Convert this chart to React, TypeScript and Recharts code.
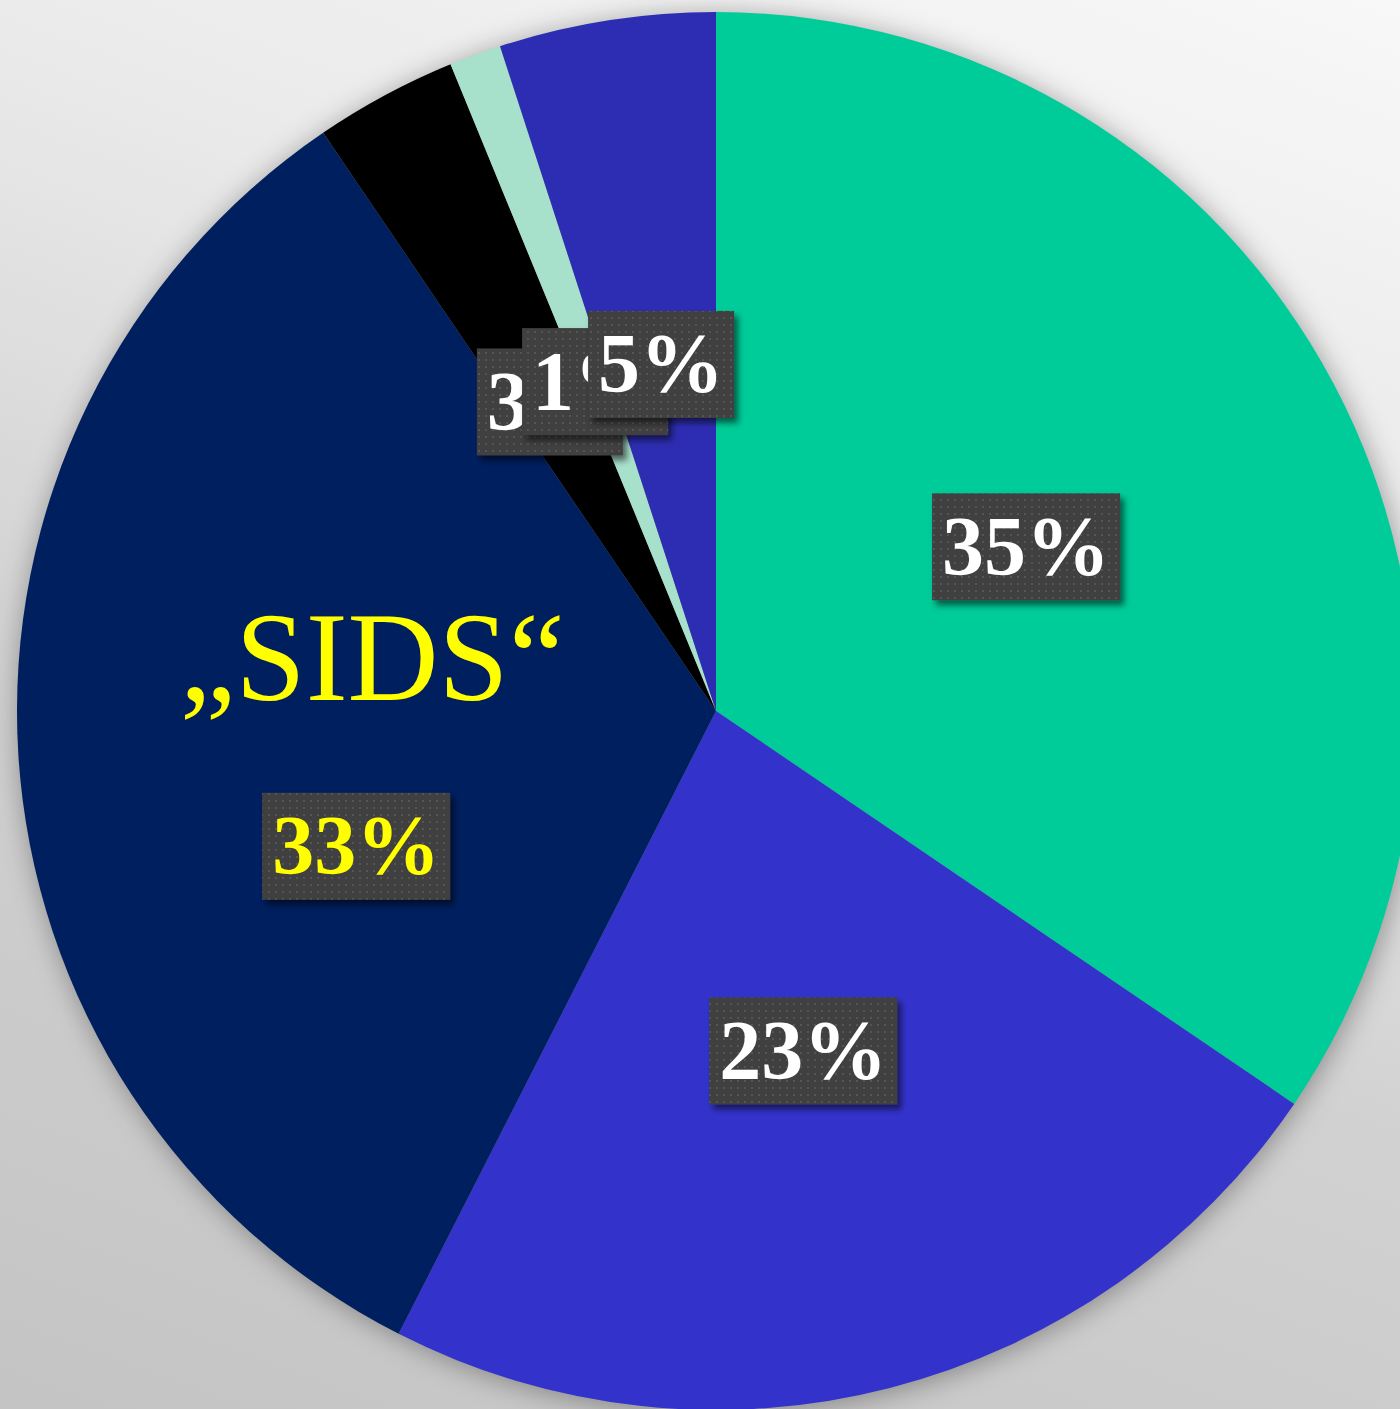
import { PieChart, Pie, Cell } from "recharts"

const sliceNames = ["Kategorie A", "Kategorie B", "SIDS", "Kategorie D", "Kategorie E", "Kategorie F"]
const sliceShares = [34.5, 23, 33, 3.3, 1.2, 5]
const sliceColors = ["#00CC99", "#3333CC", "#001F5F", "#000000", "#A7E0CB", "#2D2DB3"]
const highlightLabel = "„SIDS“"

const data = sliceNames.map((name, i) => ({ name, value: sliceShares[i] }))

const RADIAN = Math.PI / 180
const FONT = '"Liberation Serif", "Times New Roman", serif'

function textWidth(s: string, size: number) {
  let w = 0
  for (const ch of s) w += ch === "%" ? 1.0 : 0.5
  return w * size
}

function renderLabel(props: any) {
  const { cx, cy, midAngle, outerRadius, percent, index } = props
  const isSids = index === 2
  // the SIDS label sits lower in the slice, below its caption
  const angle = isSids ? midAngle + 17 : midAngle
  const r = outerRadius * (isSids ? 0.55 : 0.502)
  const x = cx + r * Math.cos(-angle * RADIAN)
  const y = cy + r * Math.sin(-angle * RADIAN)
  const text = `${Math.round(percent * 100)}%`
  const size = 84
  const w = textWidth(text, size) + 20
  const h = 107
  return (
    <g key={`lbl-${index}`}>
      {isSids && (
        <text
          x={x + 16}
          y={y - 146}
          textAnchor="middle"
          fontFamily={FONT}
          fontSize={126}
          fill="#FFFF00"
        >
          {highlightLabel}
        </text>
      )}
      <rect x={x - w / 2} y={y - h / 2} width={w} height={h} fill="url(#dots)" filter="url(#boxShadow)" />
      <text
        x={x}
        y={y + 28}
        textAnchor="middle"
        fontFamily={FONT}
        fontWeight="bold"
        fontSize={size}
        fill={isSids ? "#FFFF00" : "#FFFFFF"}
      >
        {text}
      </text>
    </g>
  )
}

export default function App() {
  return (
    <div
      style={{
        position: "absolute",
        left: 0,
        top: 0,
        width: 1400,
        height: 1409,
        background: "linear-gradient(200deg, #f8f8f8 0%, #e9e9e9 30%, #d1d1d1 60%, #c4c4c4 100%)",
      }}
    >
      <PieChart width={1400} height={1409} margin={{ top: 0, right: 0, bottom: 0, left: 0 }}>
        <defs>
          <filter id="pieShadow" x="-10%" y="-10%" width="120%" height="120%">
            <feGaussianBlur stdDeviation="14" />
          </filter>
          <filter id="boxShadow" x="-20%" y="-20%" width="140%" height="150%">
            <feDropShadow dx="4" dy="5" stdDeviation="3" floodColor="#000" floodOpacity="0.55" />
          </filter>
          <pattern id="dots" width="7" height="7" patternUnits="userSpaceOnUse">
            <rect width="7" height="7" fill="#3f3f3f" />
            <rect x="2" y="2" width="2" height="2" fill="#555555" />
          </pattern>
        </defs>
        <Pie
          data={[{ name: "shadow", value: 1 }]}
          dataKey="value"
          cx={718}
          cy={714}
          outerRadius={699}
          startAngle={90}
          endAngle={-270}
          fill="#000"
          fillOpacity={0.35}
          stroke="none"
          filter="url(#pieShadow)"
          isAnimationActive={false}
        />
        <Pie
          data={data}
          dataKey="value"
          nameKey="name"
          cx={716}
          cy={711}
          outerRadius={699}
          startAngle={90}
          endAngle={-270}
          stroke="none"
          labelLine={false}
          label={renderLabel}
          isAnimationActive={false}
        >
          {data.map((d, i) => (
            <Cell key={d.name} fill={sliceColors[i]} />
          ))}
        </Pie>
      </PieChart>
    </div>
  )
}
